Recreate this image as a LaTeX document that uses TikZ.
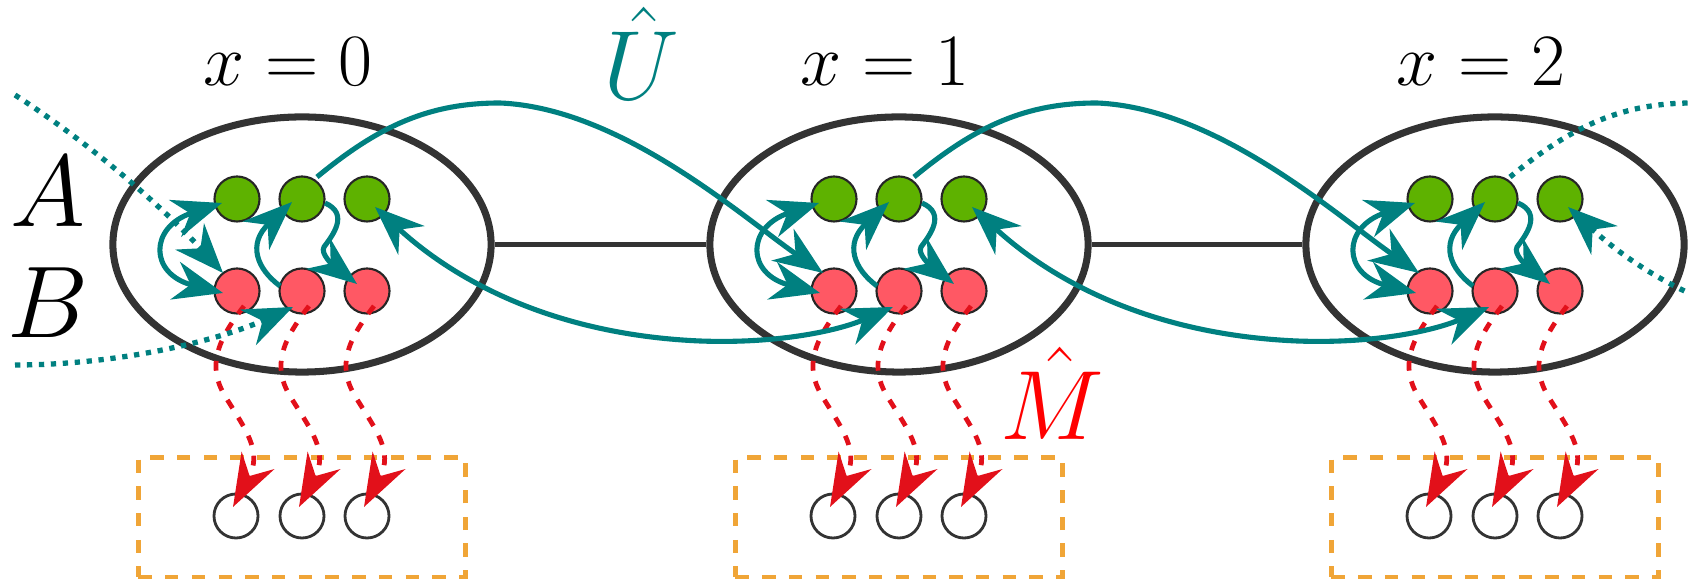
\RequirePackage{fix-cm}
\documentclass[tikz,border=0pt]{standalone}
\usetikzlibrary{arrows.meta,shapes.geometric,calc}
\definecolor{tealc}{RGB}{0,128,128}
\definecolor{gfill}{RGB}{94,178,0}
\definecolor{rfill}{RGB}{255,88,100}
\definecolor{ored}{RGB}{226,16,26}
\definecolor{oran}{RGB}{240,165,55}
\definecolor{ellc}{RGB}{51,51,51}
\definecolor{mred}{RGB}{255,0,0}
\tikzset{
  tealtip/.tip={Stealth[length=14pt,width=11pt,inset=4.5pt]},
  redtip/.tip={Stealth[length=15pt,width=10.5pt,inset=5pt]},
}
\begin{document}
\begin{tikzpicture}[x=0.01cm,y=-0.01cm,
  site/.style={ellipse,draw=ellc,line width=2pt,minimum width=3.78cm,minimum height=2.55cm,inner sep=0pt},
  qa/.style={circle,draw=black!85,line width=0.6pt,fill=gfill,minimum size=0.45cm,inner sep=0pt},
  qb/.style={qa,fill=rfill},
  qo/.style={circle,draw=ellc,line width=0.8pt,minimum size=0.44cm,inner sep=0pt},
  obox/.style={rectangle,draw=oran,line width=1.4pt,dash pattern=on 3.8pt off 3.8pt,minimum width=3.27cm,minimum height=1.19cm,inner sep=0pt},
  link/.style={draw=ellc,line width=1.6pt},
  tline/.style={draw=tealc,line width=1.45pt},
  tdot/.style={draw=tealc,line width=1.5pt,dash pattern=on 1.5pt off 1.9pt},
  rdash/.style={draw=ored,line width=1.35pt,dash pattern=on 2.8pt off 3.1pt},
  lbl/.style={font=\fontsize{21}{25}\selectfont,anchor=base},
  big/.style={font=\fontsize{29}{33}\selectfont,anchor=base},
  hatl/.style={font=\fontsize{28}{32}\selectfont,anchor=base},
]
\useasboundingbox (0,0) rectangle (1689,586);

% sites, qubits, measurement boxes
\foreach \i/\cx in {0/302,1/899,2/1495}{
  \node[site] (e\i) at (\cx,244.5) {};
  \node[obox] (bx\i) at (\cx,517.5) {};
  \node[lbl] (xl\i) at (\cx-14,86) {$x=\i$};
}
\draw[link] (e0.east) -- (e1.west);
\draw[link] (e1.east) -- (e2.west);

\foreach \i/\cx in {0/302,1/899,2/1495}{
  \node[qa] (ga\i) at (\cx-65,199) {};
  \node[qa] (gb\i) at (\cx,199) {};
  \node[qa] (gc\i) at (\cx+65,199) {};
  \node[qb] (ra\i) at (\cx-65,291) {};
  \node[qb] (rb\i) at (\cx,291) {};
  \node[qb] (rc\i) at (\cx+65,291) {};
  \node[qo] (oa\i) at (\cx-66,516) {};
  \node[qo] (ob\i) at (\cx,516) {};
  \node[qo] (oc\i) at (\cx+65,516) {};
}

\node[big] (lA) at (48,227) {$A$};
\node[big] (lB) at (48,338) {$B$};
\node[hatl,text=tealc] (lU) at (641,100) {$\hat{U}$};
\node[hatl,text=mred] (lM) at (1052,440) {$\hat{M}$};

% local teal arrows
\foreach \i in {0,1,2}{
  \draw[tline,{tealtip}-{tealtip}] ($(ga\i)+(-15,4)$) .. controls ($(ga\i)+(-88,28)$) and ($(ra\i)+(-88,-17)$) .. ($(ra\i)+(-14,2)$);
  \draw[tline,-{tealtip}] ($(rb\i)+(-22,-5)$) .. controls ($(rb\i)+(-45,-22)$) and ($(gb\i)+(-55,45)$) .. ($(gb\i)+(-10,3)$);
  \draw[tline,-{tealtip}] ($(gb\i)+(23,4)$) .. controls ($(gb\i)+(48,15)$) and ($(gb\i)+(30,37)$) .. ($(gb\i)+(22,48)$) .. controls ($(gb\i)+(18,55)$) and ($(rc\i)+(-33,-25)$) .. ($(rc\i)+(-10,-7)$);
  \foreach \k in {a,b,c}{
    \draw[rdash,-{redtip}] ($(r\k\i)+(7,15)$) .. controls ($(r\k\i)+(-20,50)$) and ($(r\k\i)+(-30,75)$) .. ($(r\k\i)+(-12,105)$) .. controls ($(r\k\i)+(8,138)$) and ($(o\k\i)+(27,-65)$) .. ($(o\k\i)+(-3,-9)$);
  }
}

% teal arrows between sites
\foreach \i/\j in {0/1,1/2}{
  \draw[tline,-{tealtip}] ($(gb\i)+(15,-22)$) .. controls ($(gb\i)+(78,-74)$) and ($(gb\i)+(128,-96)$) .. ($(gb\i)+(198,-96)$) .. controls ($(gb\i)+(318,-91)$) and ($(ra\j)+(-94,-76)$) .. ($(ra\j)+(-11,-18)$);
  \draw[tline,{tealtip}-{tealtip}] ($(gc\i)+(8,8)$) .. controls ($(gc\i)+(93,86)$) and ($(gc\i)+(193,136)$) .. ($(gc\i)+(333,142)$) .. controls ($(rb\j)+(-119,53)$) and ($(rb\j)+(-59,39)$) .. ($(rb\j)+(-6,16)$);
}

% dotted continuations beyond the picture
\begin{scope}
  \clip (0,0) rectangle (1689,586);
  \coordinate (ra3) at (2027,291);
  \coordinate (rb3) at (2092,291);
  \coordinate (inA) at (15,95);
  \coordinate (inB) at (15,365);
  \draw[tdot] ($(gb2)+(15,-22)$) .. controls ($(gb2)+(78,-74)$) and ($(gb2)+(128,-96)$) .. ($(gb2)+(198,-96)$) .. controls ($(gb2)+(318,-91)$) and ($(ra3)+(-94,-76)$) .. ($(ra3)+(-11,-18)$);
  \draw[tdot,{tealtip}-] ($(gc2)+(8,8)$) .. controls ($(gc2)+(93,86)$) and ($(gc2)+(193,136)$) .. ($(gc2)+(333,142)$) .. controls ($(rb3)+(-119,53)$) and ($(rb3)+(-59,39)$) .. ($(rb3)+(-6,16)$);
  \draw[tdot,-{tealtip}] (inA) .. controls (100,150) and (170,215) .. ($(ra0)+(-14,-18)$);
  \draw[tdot,-{tealtip}] (inB) .. controls (120,365) and (220,340) .. ($(rb0)+(-9,16)$);
\end{scope}
\end{tikzpicture}
\end{document}
